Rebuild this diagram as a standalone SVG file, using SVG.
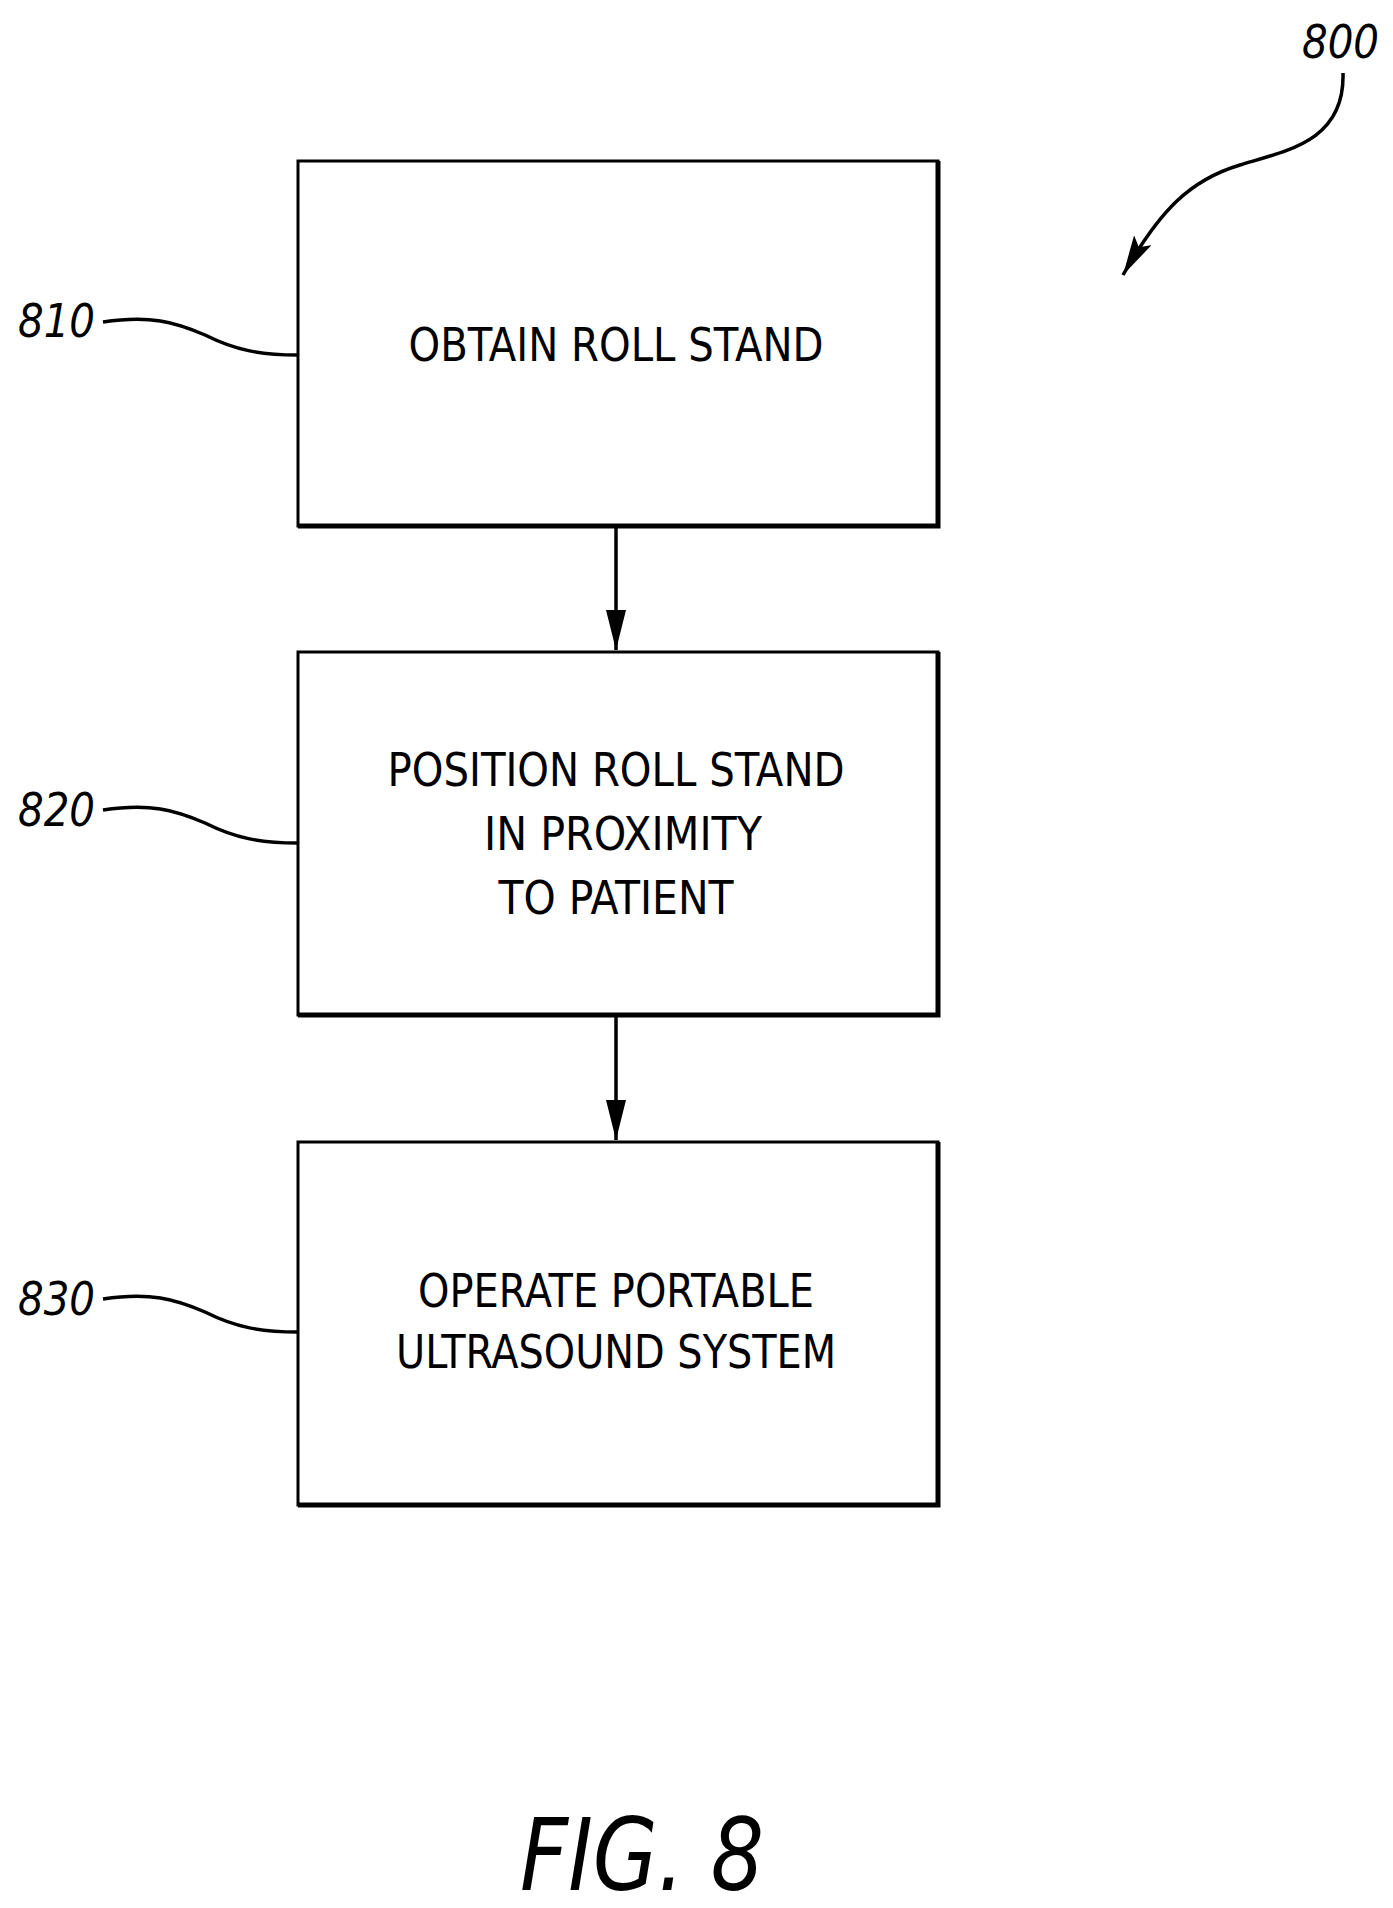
<svg xmlns="http://www.w3.org/2000/svg" width="1393" height="1908" viewBox="0 0 1393 1908">
<style>
.box{fill:#fff;stroke:#000;stroke-width:3}
.sh{fill:none;stroke:#000;stroke-width:5}
.t{font-family:"DejaVu Sans Condensed","DejaVu Sans",sans-serif;font-size:46px;text-anchor:middle}
.lb{font-family:"DejaVu Sans Condensed","DejaVu Sans",sans-serif;font-style:italic;font-size:46px}
.fig{font-family:"DejaVu Sans Condensed","DejaVu Sans",sans-serif;font-style:italic;font-size:100px}
.ln{fill:none;stroke:#000;stroke-width:3.5}
</style>
<defs>
<marker id="ah" viewBox="0 0 40 20" refX="40" refY="10" markerWidth="40" markerHeight="20" markerUnits="userSpaceOnUse" orient="auto"><path d="M0,0L40,10L0,20z"/></marker>
<marker id="ah2" viewBox="0 0 40 20" refX="40" refY="10" markerWidth="40" markerHeight="20" markerUnits="userSpaceOnUse" orient="auto"><path d="M0,0L40,10L0,20L8,10z"/></marker>
</defs>
<g id="n810">
<rect class="box" x="298" y="161" width="640" height="365"/>
<path class="sh" d="M298,526H938V161"/>
<text class="t" x="616" y="361" textLength="415" lengthAdjust="spacingAndGlyphs">OBTAIN ROLL STAND</text>
</g>
<g id="n820">
<rect class="box" x="298" y="652" width="640" height="363"/>
<path class="sh" d="M298,1015H938V652"/>
<text class="t" x="616" y="786" textLength="457" lengthAdjust="spacingAndGlyphs">POSITION ROLL STAND</text>
<text class="t" x="623" y="850" textLength="278" lengthAdjust="spacingAndGlyphs">IN PROXIMITY</text>
<text class="t" x="616" y="914" textLength="235" lengthAdjust="spacingAndGlyphs">TO PATIENT</text>
</g>
<g id="n830">
<rect class="box" x="298" y="1142" width="640" height="363"/>
<path class="sh" d="M298,1505H938V1142"/>
<text class="t" x="616" y="1307" textLength="396" lengthAdjust="spacingAndGlyphs">OPERATE PORTABLE</text>
<text class="t" x="616" y="1368" textLength="440" lengthAdjust="spacingAndGlyphs">ULTRASOUND SYSTEM</text>
</g>
<g id="labels">
<text class="lb" x="18" y="337" textLength="77" lengthAdjust="spacingAndGlyphs">810</text>
<text class="lb" x="18" y="826" textLength="77" lengthAdjust="spacingAndGlyphs">820</text>
<text class="lb" x="18" y="1315" textLength="77" lengthAdjust="spacingAndGlyphs">830</text>
<text class="lb" x="1302" y="58" textLength="77" lengthAdjust="spacingAndGlyphs">800</text>
<text class="fig" x="520" y="1890" textLength="244" lengthAdjust="spacingAndGlyphs">FIG. 8</text>
</g>
<g id="connectors">
<path class="ln" d="M616,528V650" marker-end="url(#ah)"/>
<path class="ln" d="M616,1017V1140" marker-end="url(#ah)"/>
<path class="ln" d="M103,322C150,315 175,322 205,335C235,350 260,355 298,355"/>
<path class="ln" d="M103,810C150,803 175,810 205,823C235,838 260,843 298,843"/>
<path class="ln" d="M103,1299C150,1292 175,1299 205,1312C235,1327 260,1332 298,1332"/>
<path class="ln" d="M1343,73C1345,140 1290,150 1240,165C1190,180 1160,210 1123,275" marker-end="url(#ah2)"/>
</g>
</svg>
